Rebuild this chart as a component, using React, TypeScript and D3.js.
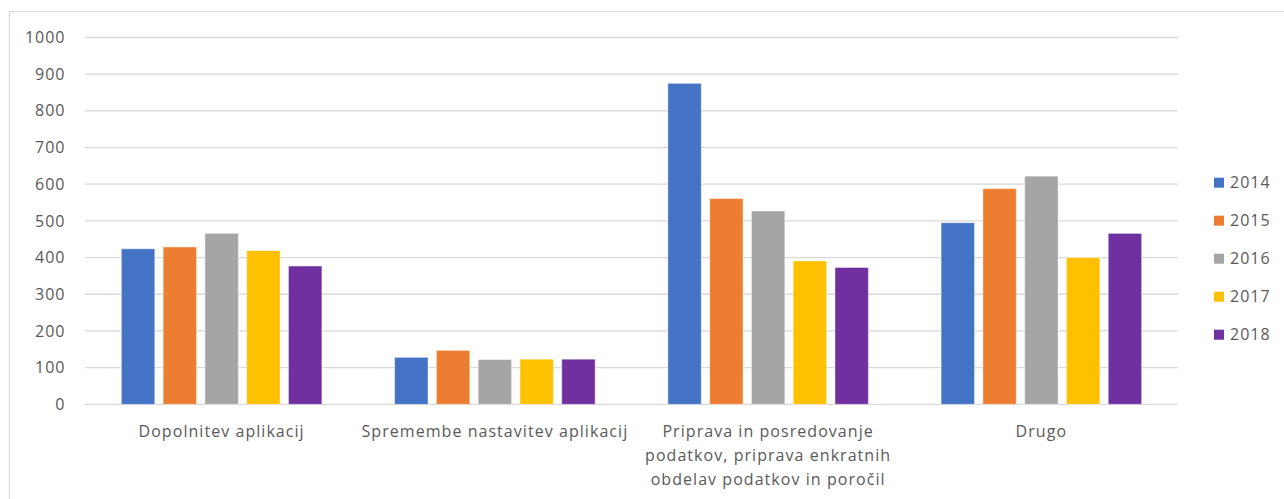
import React from "react";
import * as d3 from "d3";

const categories: string[][] = [
  ["Dopolnitev aplikacij"],
  ["Spremembe nastavitev aplikacij"],
  ["Priprava in posredovanje", "podatkov, priprava enkratnih", "obdelav podatkov in poročil"],
  ["Drugo"],
];
const years = ["2014", "2015", "2016", "2017", "2018"];
const values2014 = [424, 128, 875, 495];
const values2015 = [429, 147, 561, 588];
const values2016 = [466, 122, 527, 622];
const values2017 = [419, 123, 391, 400];
const values2018 = [377, 123, 373, 466];
const seriesValues = [values2014, values2015, values2016, values2017, values2018];
const colors = ["#4472C4", "#ED7D31", "#A5A5A5", "#FFC000", "#7030A0"];
const yTicks = [0, 100, 200, 300, 400, 500, 600, 700, 800, 900, 1000];

const W = 1284;
const H = 499;
const plotLeft = 85;
const plotRight = 1178;
const yTop = 37.5;
const yBottom = 404.3;
const font = "'Open Sans', sans-serif";
const textColor = "#595959";

export default function App() {
  const catIdx = categories.map((_, i) => String(i));
  const x0 = d3.scaleBand<string>().domain(catIdx).range([plotLeft, plotRight]).paddingInner(0).paddingOuter(0);
  const x1 = d3.scaleBand<string>().domain(years).range([0, x0.bandwidth()]).paddingInner(0.2).paddingOuter(0.87);
  const y = d3.scaleLinear().domain([0, 1000]).range([yBottom, yTop]);

  return (
    <svg width={W} height={H} style={{ position: "absolute", left: 0, top: 0, background: "#fff" }}>
      <rect x={9.5} y={11.5} width={W + 20} height={H + 20} fill="#fff" stroke="#D9D9D9" strokeWidth={1} />
      {yTicks.map((t) => (
        <g key={t}>
          <line x1={plotLeft} x2={plotRight} y1={y(t)} y2={y(t)} stroke="#D9D9D9" strokeWidth={1.3} />
          <text x={65.5} y={y(t)} dy="0.35em" textAnchor="end" fontFamily={font} fontSize={16} letterSpacing={1} fill={textColor}>
            {t}
          </text>
        </g>
      ))}
      {categories.map((lines, ci) => (
        <g key={ci} transform={`translate(${x0(String(ci))},0)`}>
          {years.map((yr, si) => {
            const v = seriesValues[si][ci];
            return (
              <rect
                key={yr}
                x={x1(yr)}
                y={y(v)}
                width={x1.bandwidth()}
                height={y(0) - y(v)}
                fill={colors[si]}
                stroke="rgba(255,255,255,0.45)"
                strokeWidth={1}
              />
            );
          })}
          {lines.map((ln, li) => (
            <text
              key={li}
              x={x0.bandwidth() / 2}
              y={431.5 + li * 24}
              dy="0.35em"
              textAnchor="middle"
              fontFamily={font}
              fontSize={16}
              letterSpacing={1.05}
              fill={textColor}
            >
              {ln}
            </text>
          ))}
        </g>
      ))}
      {years.map((yr, si) => {
        const cy = 182.7 + si * 38;
        return (
          <g key={yr}>
            <rect x={1214} y={cy - 5} width={10} height={10} fill={colors[si]} />
            <text x={1230} y={cy} dy="0.35em" fontFamily={font} fontSize={16} letterSpacing={1} fill={textColor}>
              {yr}
            </text>
          </g>
        );
      })}
    </svg>
  );
}
